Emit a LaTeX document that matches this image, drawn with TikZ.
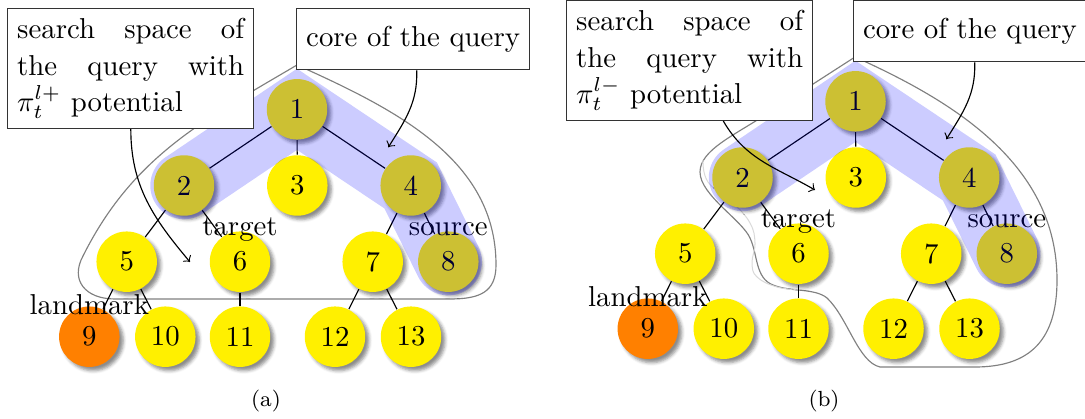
\documentclass[tikz,border=0pt]{standalone}
\usepackage{fontspec}
\usetikzlibrary{shadows.blur,calc}

\definecolor{nodeyellow}{RGB}{255,240,0}
\definecolor{lmorange}{RGB}{255,128,0}

\pgfdeclarelayer{outline}
\pgfdeclarelayer{links}
\pgfdeclarelayer{band}
\pgfdeclarelayer{callouts}
\pgfsetlayers{outline,links,main,band,callouts}

\tikzset{
  vertex/.style={circle, fill=nodeyellow, minimum size=21pt, inner sep=0pt,
    font=\fontsize{10}{12}\selectfont,
    blur shadow={shadow xshift=1.3pt, shadow yshift=-1.3pt,
      shadow blur radius=1.1pt, shadow opacity=45}},
  landmark/.style={vertex, fill=lmorange},
  treeedge/.style={draw=black, line width=0.4pt},
  tag/.style={anchor=base, inner sep=0pt, font=\fontsize{10}{12}\selectfont},
  corepath/.style={draw=blue, draw opacity=0.2, line width=23.4pt,
    line cap=round, line join=miter},
  region/.style={draw=black!50, line width=0.4pt},
  faintregion/.style={draw=black!15, line width=0.35pt},
  callout/.style={draw=black!80, fill=white, line width=0.45pt,
    inner sep=3.33pt, font=\fontsize{10}{12.7}\selectfont},
  pointer/.style={->, line width=0.4pt},
  caption/.style={anchor=base, inner sep=0pt, font=\fontsize{7.6}{9}\selectfont},
}

% one justified line of the callout text
\newcommand\spreadline[1]{\leavevmode\hbox to 78.8pt{#1}}

% the vertices of the shortest-path tree; #1 prefixes node names
\newcommand\treevertices[1]{%
  \node[vertex]   (#1n1)  at (297,-109.3)   {1};
  \node[vertex]   (#1n2)  at (184,-185.5)   {2};
  \node[vertex]   (#1n3)  at (297.3,-185.5) {3};
  \node[vertex]   (#1n4)  at (410.7,-185.5) {4};
  \node[vertex]   (#1n5)  at (126.7,-261.7) {5};
  \node[vertex]   (#1n6)  at (240,-261.7)   {6};
  \node[vertex]   (#1n7)  at (372.7,-261.7) {7};
  \node[vertex]   (#1n8)  at (448.3,-261.7) {8};
  \node[landmark] (#1n9)  at (89.3,-336.7)  {9};
  \node[vertex]   (#1n10) at (165.3,-336.7) {10};
  \node[vertex]   (#1n11) at (240,-336.7)   {11};
  \node[vertex]   (#1n12) at (335,-336.7)   {12};
  \node[vertex]   (#1n13) at (411,-336.7)   {13};
}

% tree edges, role labels and the core path 2-1-4-8
\newcommand\treelinks[1]{%
  \begin{pgfonlayer}{links}
    \draw[treeedge] (#1n1) -- (#1n2);
    \draw[treeedge] (#1n1) -- (#1n3);
    \draw[treeedge] (#1n1) -- (#1n4);
    \draw[treeedge] (#1n2) -- (#1n5);
    \draw[treeedge] (#1n2) -- (#1n6);
    \draw[treeedge] (#1n4) -- (#1n7);
    \draw[treeedge] (#1n4) -- (#1n8);
    \draw[treeedge] (#1n5) -- (#1n9);
    \draw[treeedge] (#1n5) -- (#1n10);
    \draw[treeedge] (#1n6) -- (#1n11);
    \draw[treeedge] (#1n7) -- (#1n12);
    \draw[treeedge] (#1n7) -- (#1n13);
  \end{pgfonlayer}
  \node[tag] (#1target)   at (240,-236)   {target};
  \node[tag] (#1source)   at (448.3,-236) {source};
  \node[tag] (#1landmark) at (89.3,-315)  {landmark};
  \begin{pgfonlayer}{band}
    \draw[corepath] (#1n2.center) -- (#1n1.center) -- (#1n4.center) -- (#1n8.center);
  \end{pgfonlayer}
}

\begin{document}
\begin{tikzpicture}[x=0.3472pt, y=0.3472pt]
\useasboundingbox (0,0) rectangle (1085,-419);

% vertices of both trees (shadowed) come first
\treevertices{a}
\begin{scope}[shift={(558.5,8)}]
  \treevertices{b}
\end{scope}

% ---------- (a) ----------
\treelinks{a}
\begin{pgfonlayer}{outline}
  \draw[region] (297,-65) .. controls (397,-110) and (496,-160) .. (496,-265)
    .. controls (496,-292) and (480,-299) .. (450,-299)
    -- (115,-299)
    .. controls (85,-299) and (70,-280) .. (83,-256)
    .. controls (132.5,-157) and (202,-121) .. (297,-65) -- cycle;
\end{pgfonlayer}
\begin{pgfonlayer}{callouts}
  \node[callout, anchor=north west, text width=78.8pt, align=left] (asearch) at (7,-8)
    {\spreadline{search\hfill space\hfill of}\\
     \spreadline{the\hfill query\hfill with}\\
     $\pi_t^{l+}$ potential};
  \node[callout, anchor=north west, minimum width=80.5pt, minimum height=21.2pt] (acore)
    at (296,-8) {core of the query};
  \coordinate (asearchend) at (190,-262);
  \coordinate (acoreend) at (388.3,-147.3);
  \draw[pointer] ($(asearch.south west)+(123.8,0)$) to[out=-90, in=130] (asearchend);
  \draw[pointer] ($(acore.south west)+(120.7,0)$) to[out=-88, in=58] (acoreend);
\end{pgfonlayer}
\node[caption] (acap) at (266,-406) {(a)};

% ---------- (b) ----------
\begin{scope}[shift={(558.5,8)}]
  \treelinks{b}
\end{scope}
\begin{pgfonlayer}{outline}
  \draw[region] (855,-57) .. controls (955,-102) and (1057,-165) .. (1057,-280)
    .. controls (1057,-340) and (1030,-367) .. (975,-367)
    -- (880,-367)
    .. controls (858,-362) and (848,-318) .. (827,-298)
    .. controls (815,-288) and (790,-292) .. (773,-285)
    .. controls (755,-278) and (758,-255) .. (750,-238)
    .. controls (742,-220) and (700,-195) .. (700,-172)
    .. controls (700,-150) and (735,-135) .. (765,-115)
    -- cycle;
  % earlier, lighter trace of the boundary left of vertex 6
  \draw[faintregion] plot[smooth, tension=0.7] coordinates
    {(703,-160) (708,-182) (733,-203) (750,-223) (755,-243) (752,-263)
     (757,-277) (777,-287) (800,-290)};
\end{pgfonlayer}
\begin{pgfonlayer}{callouts}
  \node[callout, anchor=north west, text width=78.8pt, align=left] (bsearch) at (566,0)
    {\spreadline{search\hfill space\hfill of}\\
     \spreadline{the\hfill query\hfill with}\\
     $\pi_t^{l-}$ potential};
  \node[callout, anchor=north west, minimum width=80.5pt, minimum height=21.2pt] (bcore)
    at (852.8,0) {core of the query};
  \coordinate (bsearchend) at (815,-190);
  \coordinate (bcoreend) at (946.3,-139.3);
  \draw[pointer] ($(bsearch.south west)+(157.3,0)$) to[out=-60, in=150] (bsearchend);
  \draw[pointer] ($(bcore.south west)+(121.9,0)$) to[out=-88, in=58] (bcoreend);
\end{pgfonlayer}
\node[caption] (bcap) at (824,-406) {(b)};
\end{tikzpicture}
\end{document}
